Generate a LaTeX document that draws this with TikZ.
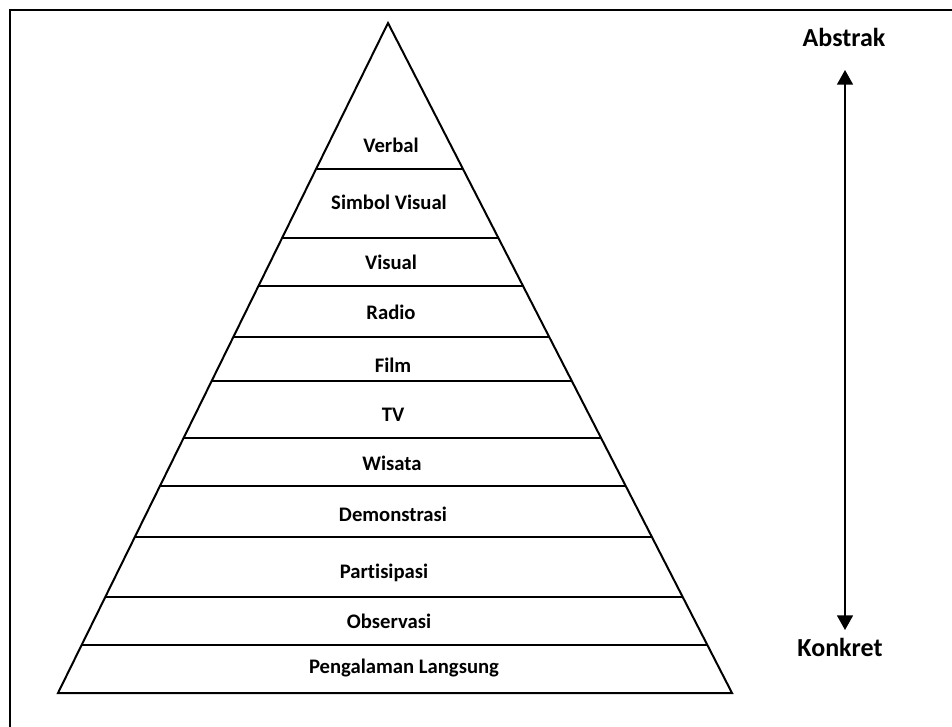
\documentclass[tikz,border=0pt]{standalone}
\usepackage{fontspec}
\setmainfont{Carlito}[Ligatures=NoCommon]
\usetikzlibrary{arrows.meta}

\begin{document}
\begin{tikzpicture}[x=0.75pt, y=-0.75pt,
        level/.style={font=\bfseries\fontsize{15.5}{18}\selectfont, inner sep=0pt},
        side/.style={font=\bfseries\fontsize{19.5}{23}\selectfont, inner sep=0pt},
        edge/.style={line width=1.5pt}]
        \useasboundingbox (0, 0) rectangle (952, 727);

        % frame
        \draw[line width=1.8pt] (10, 740) -- (10, 10) -- (960, 10);

        % pyramid
        \coordinate (apex) at (388, 23);
        \coordinate (bl) at (58, 693);
        \coordinate (br) at (732, 693);
        \begin{scope}
            \clip (apex) -- (bl) -- (br) -- cycle;
            \foreach \y in {169, 238, 286, 337, 381, 438, 486, 537, 597, 645}
                \draw[edge] (0, \y) -- (952, \y);
        \end{scope}
        \draw[edge, line join=miter] (apex) -- (bl) -- (br) -- cycle;

        \node[level] (verbal) at (391, 145) {Verbal};
        \node[level] (simbol) at (389, 202) {Simbol Visual};
        \node[level] (visual) at (391, 262) {Visual};
        \node[level] (radio) at (391, 312) {Radio};
        \node[level] (film) at (393, 365) {Film};
        \node[level] (tv) at (393, 415) {TV};
        \node[level] (wisata) at (392, 463) {Wisata};
        \node[level] (demo) at (393, 514) {Demonstrasi};
        \node[level] (partisipasi) at (384, 573) {Partisipasi};
        \node[level] (observasi) at (389, 621) {Observasi};
        \node[level] (langsung) at (404, 668) {Pengalaman Langsung};

        % scale
        \node[side] (abstrak) at (844, 37) {Abstrak};
        \node[side] (konkret) at (840, 647) {Konkret};
        \coordinate (hi) at (845, 70);
        \coordinate (lo) at (845, 630);
        \draw[line width=1.2pt, {Triangle[length=11pt, width=12pt]}-{Triangle[length=11pt, width=12pt]}] (hi) -- (lo);
    \end{tikzpicture}
\end{document}
